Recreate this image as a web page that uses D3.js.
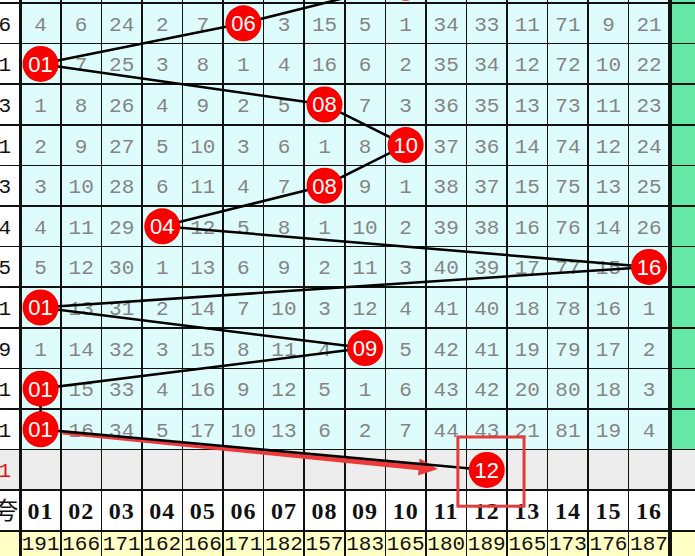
<!DOCTYPE html>
<html><head><meta charset="utf-8">
<script src="https://cdn.jsdelivr.net/npm/d3@7/dist/d3.min.js"></script>
<style>html,body{margin:0;padding:0;background:#fff;overflow:hidden}</style>
</head><body>
<script>
// ---- data ----
const columns = ["01","02","03","04","05","06","07","08","09","10","11","12","13","14","15","16"];
// omission values per draw row (0 = hit, drawn as ball); first row lies above the visible area
const rowValues = [
  [3,5,23,1,6,9,2,14,4,0,33,32,10,70,8,20],
  [4,6,24,2,7,0,3,15,5,1,34,33,11,71,9,21],
  [0,7,25,3,8,1,4,16,6,2,35,34,12,72,10,22],
  [1,8,26,4,9,2,5,0,7,3,36,35,13,73,11,23],
  [2,9,27,5,10,3,6,1,8,0,37,36,14,74,12,24],
  [3,10,28,6,11,4,7,0,9,1,38,37,15,75,13,25],
  [4,11,29,0,12,5,8,1,10,2,39,38,16,76,14,26],
  [5,12,30,1,13,6,9,2,11,3,40,39,17,77,15,0],
  [0,13,31,2,14,7,10,3,12,4,41,40,18,78,16,1],
  [1,14,32,3,15,8,11,4,0,5,42,41,19,79,17,2],
  [0,15,33,4,16,9,12,5,1,6,43,42,20,80,18,3],
  [0,16,34,5,17,10,13,6,2,7,44,43,21,81,19,4]
];
const leftLabels = ["", "6","1","3","1","3","4","5","1","9","1","1"];
const predictLabel = "1";
const predictNumber = "12";
const headerLabel = "夸";
const totals = [191,166,171,162,166,171,182,157,183,165,180,189,165,173,176,187];

// ---- layout ----
const W = 695, H = 556;
const svg = d3.select("body").append("svg").attr("width", W).attr("height", H)
  .style("display","block");

const nData = rowValues.length;
const rowIds = d3.range(nData + 3); // data rows, predict row, header row, totals row
const x = d3.scaleBand().domain(columns).range([20.3, 669.3]);
const rowH = 40.6;
const y = d3.scaleBand().domain(rowIds).range([-37.6, -37.6 + rowH * rowIds.length]);
const predRow = nData, headRow = nData + 1, totRow = nData + 2;
const cx = c => x(c) + x.bandwidth() / 2;
const cy = r => y(r) + y.bandwidth() / 2;
const leftX0 = x.range()[0] - 40.6;

const bgFor = r => r < nData ? "#dffcfc" : r === predRow ? "#ededed" : r === headRow ? "#ffffff" : "#ffffc6";
const sideBg = r => r < nData ? "#ffffff" : r === predRow ? "#ededed" : r === headRow ? "#ffffff" : "#ffffc6";
const rightBg = r => r < nData ? "#66e8a6" : r === predRow ? "#ededed" : r === headRow ? "#ffffff" : "#ffffc6";

// backgrounds
const gBg = svg.append("g");
rowIds.forEach(r => {
  gBg.append("rect").attr("x", x.range()[0]).attr("y", y(r)).attr("width", x.range()[1]-x.range()[0]).attr("height", rowH).attr("fill", bgFor(r));
  gBg.append("rect").attr("x", leftX0).attr("y", y(r)).attr("width", 40.6).attr("height", rowH).attr("fill", sideBg(r));
  gBg.append("rect").attr("x", x.range()[1]).attr("y", y(r)).attr("width", 40.6).attr("height", rowH).attr("fill", rightBg(r));
});

// grid lines
const gGrid = svg.append("g").attr("stroke", "#111").attr("shape-rendering", "crispEdges");
rowIds.concat([rowIds.length]).forEach(r => {
  const yy = r < rowIds.length ? y(r) : y(rowIds.length-1) + rowH;
  gGrid.append("line").attr("x1", 0).attr("x2", W).attr("y1", yy).attr("y2", yy)
    .attr("stroke-width", (r === headRow || r === totRow) ? 2 : 1.5);
});
columns.forEach(c => {
  gGrid.append("line").attr("x1", x(c)).attr("x2", x(c)).attr("y1", 0).attr("y2", H).attr("stroke-width", 1.5);
});
gGrid.append("line").attr("x1", x.range()[0]).attr("x2", x.range()[0]).attr("y1", 0).attr("y2", H).attr("stroke-width", 3);
gGrid.append("line").attr("x1", x.range()[1]+1).attr("x2", x.range()[1]+1).attr("y1", 0).attr("y2", H).attr("stroke-width", 4);

// cell numbers (the first data row sits above the visible area, so its texts are not drawn)
const gText = svg.append("g");
rowValues.forEach((vals, r) => {
  if (cy(r) < 0) return;
  vals.forEach((v, i) => {
    if (v === 0) return;
    gText.append("text").attr("x", cx(columns[i])).attr("y", cy(r)).attr("dy", "0.36em")
      .attr("text-anchor", "middle").attr("font-family", "'Liberation Mono', monospace")
      .attr("font-size", 21).attr("fill", "#858585").text(v);
  });
  gText.append("text").attr("x", 11).attr("y", cy(r)).attr("dy", "0.36em").attr("text-anchor", "end")
    .attr("font-family", "'Liberation Mono', monospace").attr("font-size", 21).attr("fill", "#111").text(leftLabels[r]);
});
gText.append("text").attr("x", 11).attr("y", cy(predRow)).attr("dy", "0.36em").attr("text-anchor", "end")
  .attr("font-family", "'Liberation Mono', monospace").attr("font-size", 21).attr("fill", "#e01010").text(predictLabel);
gText.append("text").attr("x", 18).attr("y", cy(headRow)).attr("dy", "0.36em").attr("text-anchor", "end")
  .attr("font-family", "'Noto Sans CJK SC', sans-serif").attr("font-size", 24).attr("fill", "#111").text(headerLabel);
columns.forEach((c, i) => {
  gText.append("text").attr("x", cx(c)).attr("y", cy(headRow)).attr("dy", "0.36em").attr("text-anchor", "middle")
    .attr("font-family", "'Liberation Serif', serif").attr("font-weight", "bold").attr("font-size", 24)
    .attr("letter-spacing", 1).attr("fill", "#111").text(c);
  gText.append("text").attr("x", cx(c)).attr("y", cy(totRow) - 9).attr("dy", "0.36em").attr("text-anchor", "middle")
    .attr("font-family", "'Liberation Mono', monospace").attr("font-size", 21).attr("fill", "#111").text(totals[i]);
});

// hit positions
const hits = rowValues.map((vals, r) => ({ r, c: columns[vals.indexOf(0)] }));
const pred = { r: predRow, c: predictNumber };

// red arrow (from last hit toward prediction)
const last = hits[hits.length - 1];
const p0 = [cx(last.c) + 22, cy(last.r) + 3.5];
const p1 = [cx(pred.c) - 49, cy(pred.r) - 1];
const ang = Math.atan2(p1[1]-p0[1], p1[0]-p0[0]);
const ux = Math.cos(ang), uy = Math.sin(ang), nx = -uy, ny = ux;
const headLen = 19, headW = 8.5, w0 = 1.8, w1 = 3.2;
const hb = [p1[0]-ux*headLen, p1[1]-uy*headLen];
const arrowPts = [
  [p0[0]+nx*w0, p0[1]+ny*w0], [hb[0]+nx*w1, hb[1]+ny*w1], [hb[0]+nx*headW, hb[1]+ny*headW],
  p1, [hb[0]-nx*headW, hb[1]-ny*headW], [hb[0]-nx*w1, hb[1]-ny*w1], [p0[0]-nx*w0, p0[1]-ny*w0]
];
svg.append("path").attr("d", "M" + arrowPts.map(p => p.join(",")).join("L") + "Z").attr("fill", "#ec3a3a");

// connecting line
const line = d3.line().x(d => cx(d.c)).y(d => cy(d.r));
svg.append("path").attr("d", line(hits.concat([pred]))).attr("fill", "none")
  .attr("stroke", "#000").attr("stroke-width", 2.5);

// red box around prediction
svg.append("rect").attr("x", x(pred.c) - 8.6).attr("y", y(pred.r) - 12.6)
  .attr("width", x.bandwidth() + 25.6).attr("height", rowH + 28.6)
  .attr("fill", "none").attr("stroke", "#e23c3c").attr("stroke-width", 3);

// balls
const gBall = svg.append("g");
hits.concat([pred]).forEach(d => {
  gBall.append("circle").attr("cx", cx(d.c)).attr("cy", cy(d.r)).attr("r", 18).attr("fill", "#f80000");
  gBall.append("text").attr("x", cx(d.c)).attr("y", cy(d.r)).attr("dy", "0.36em").attr("text-anchor", "middle")
    .attr("font-family", "'Liberation Sans', Arial, sans-serif").attr("font-size", 22).attr("fill", "#fff")
    .text(d.c);
});
</script>
</body></html>
